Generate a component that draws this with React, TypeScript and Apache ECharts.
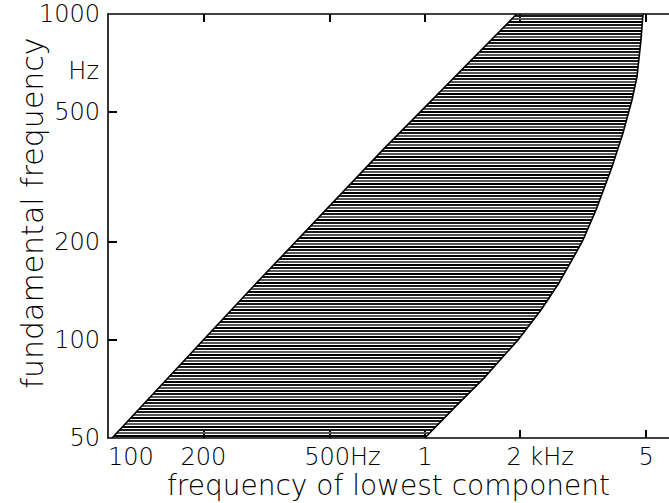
import React, { useEffect, useRef } from "react";
import * as echarts from "echarts";

// Left (upper) boundary of the shaded region: fundamental vs lowest component
const leftFreq = [103, 280, 737, 1950];
const leftF0 = [50, 142, 383, 1000];
// Right (lower) boundary
const rightFreq = [1000, 1245, 1549, 1969, 2327, 2652, 2915, 3158, 3471, 3898, 4223, 4508, 4675, 4813, 4884];
const rightF0 = [50, 62.2, 76.9, 100, 123.5, 149.5, 175.9, 202.5, 250.4, 339.3, 431.3, 544.6, 640.9, 832.7, 1000];

const xTickValues = [100, 200, 500, 1000, 2000, 5000];
const xTickLabels = ["100", "200", "500Hz", "1", "2 kHz", "5"];
const yTickValues = [50, 100, 200, 500, 1000];
const yTickLabels = ["50", "100", "200", "500", "1000"];
const xMarkTicks = [200, 500, 1000, 2000, 5000];
const yMarkTicks = [100, 200, 500];

const X_MIN = 100, X_MAX = 5900, Y_MIN = 50, Y_MAX = 1000;

const FONT = "'DejaVu Sans', sans-serif";
const W = 200;

export default function App() {
  const ref = useRef<HTMLDivElement>(null);
  useEffect(() => {
    if (!ref.current) return;
    const chart = echarts.init(ref.current, null, { renderer: "svg" });

    const xAt = (pts: number[][], y: number) => {
      for (let i = 0; i < pts.length - 1; i++) {
        const a = pts[i], b = pts[i + 1];
        const lo = Math.min(a[1], b[1]), hi = Math.max(a[1], b[1]);
        if (y >= lo && y <= hi) {
          const t = (y - a[1]) / (b[1] - a[1] || 1);
          return a[0] + t * (b[0] - a[0]);
        }
      }
      return y > pts[0][1] ? pts[0][0] : pts[pts.length - 1][0];
    };

    const labelMap: Record<string, string> = {};
    xTickValues.forEach((v, i) => (labelMap[String(v)] = xTickLabels[i]));
    const yLabelMap: Record<string, string> = {};
    yTickValues.forEach((v, i) => (yLabelMap[String(v)] = yTickLabels[i]));

    const axisLine = { show: true, lineStyle: { color: "#000", width: 1.6 } };
    const hatchColors = ["#000", "#555", "#1a1a1a"];
    const tickStyle = { color: "#000", width: 2 };

    // helper (linear, log10-space) axes that only carry the inward ticks
    const tickAxisX = (position: string) => ({
      type: "value",
      min: Math.log10(X_MIN),
      max: Math.log10(X_MAX),
      position,
      axisLine: { show: false },
      splitLine: { show: false },
      axisLabel: { show: false },
      axisTick: { show: true, inside: true, length: 8, lineStyle: tickStyle, customValues: xMarkTicks.map((v) => Math.log10(v)) },
    });

    chart.setOption({
      animation: false,
      backgroundColor: "#fff",
      grid: { left: 108, right: 0, top: 14, bottom: 65, containLabel: false, outerBoundsMode: "none" },
      xAxis: [
        {
          type: "log",
          min: X_MIN,
          max: X_MAX,
          position: "bottom",
          axisLine,
          splitLine: { show: false },
          axisTick: { show: false },
          minorTick: { show: false },
          axisLabel: {
            customValues: xTickValues,
            margin: 7,
            alignMinLabel: "left",
            color: "#000",
            fontFamily: FONT,
            fontWeight: W,
            fontSize: 24,
            formatter: (v: number) => {
              const key = String(Math.round(v));
              const s = labelMap[key] ?? key;
              if (s === "500Hz") return "{p|}" + s;
              if (s === "2 kHz") return "{q|}" + s;
              return s;
            },
            rich: {
              p: { width: 26 },
              q: { width: 40 },
            },
          },
          name: "frequency of lowest component",
          nameLocation: "middle",
          nameGap: 33,
          nameMoveOverlap: false,
          nameTextStyle: { color: "#000", fontFamily: FONT, fontWeight: W, fontSize: 28 },
        },
        {
          type: "log",
          min: X_MIN,
          max: X_MAX,
          position: "top",
          axisLine,
          splitLine: { show: false },
          axisTick: { show: false },
          axisLabel: { show: false },
        },
        tickAxisX("bottom"),
        tickAxisX("top"),
      ],
      yAxis: [
        {
          type: "log",
          min: Y_MIN,
          max: Y_MAX,
          axisLine,
          splitLine: { show: false },
          axisTick: { show: false },
          axisLabel: {
            customValues: yTickValues,
            margin: 8,
            color: "#000",
            fontFamily: FONT,
            fontWeight: W,
            fontSize: 24,
            formatter: (v: number) => yLabelMap[String(Math.round(v))] ?? String(Math.round(v)),
          },
          name: "fundamental frequency",
          nameLocation: "middle",
          nameGap: 61,
          nameMoveOverlap: false,
          nameTextStyle: { color: "#000", fontFamily: FONT, fontWeight: W, fontSize: 30, padding: [0, 0, 0, 26] },
        },
        {
          type: "value",
          min: Math.log10(Y_MIN),
          max: Math.log10(Y_MAX),
          position: "left",
          axisLine: { show: false },
          splitLine: { show: false },
          axisLabel: { show: false },
          axisTick: { show: true, inside: true, length: 9, lineStyle: tickStyle, customValues: yMarkTicks.map((v) => Math.log10(v)) },
        },
      ],
      graphic: [
        {
          type: "text",
          x: 99,
          y: 71,
          style: { text: "Hz", fill: "#000", font: `${W} 24px ${FONT}`, align: "right", verticalAlign: "middle" },
        },
      ],
      series: [
        {
          type: "custom",
          coordinateSystem: "cartesian2d",
          clip: true,
          data: [[1000, 100]],
          renderItem: (_params: any, api: any) => {
            const L = leftFreq.map((f, i) => api.coord([f, leftF0[i]]));
            const R = rightFreq.map((f, i) => api.coord([f, rightF0[i]]));
            const yBottom = L[0][1];
            const yTop = L[L.length - 1][1];
            const children: any[] = [];
            let k = 0;
            for (let y = yBottom - 2; y >= yTop + 1; y -= 3, k++) {
              const xl = xAt(L, y);
              const xr = xAt(R, y);
              children.push({
                type: "line",
                shape: { x1: xl, y1: y, x2: xr, y2: y },
                style: { stroke: hatchColors[k % 3], lineWidth: 1.8 },
              });
            }
            return { type: "group", children };
          },
          z: 1,
        },
        {
          type: "line",
          data: leftFreq.map((f, i) => [f, leftF0[i]]),
          showSymbol: false,
          lineStyle: { color: "#000", width: 1.6 },
          z: 3,
        },
        {
          type: "line",
          data: rightFreq.map((f, i) => [f, rightF0[i]]),
          showSymbol: false,
          lineStyle: { color: "#000", width: 1.6 },
          z: 3,
        },
      ],
    });
    return () => chart.dispose();
  }, []);
  return <div ref={ref} style={{ width: 669, height: 503, position: "absolute", left: 0, top: 0 }} />;
}
